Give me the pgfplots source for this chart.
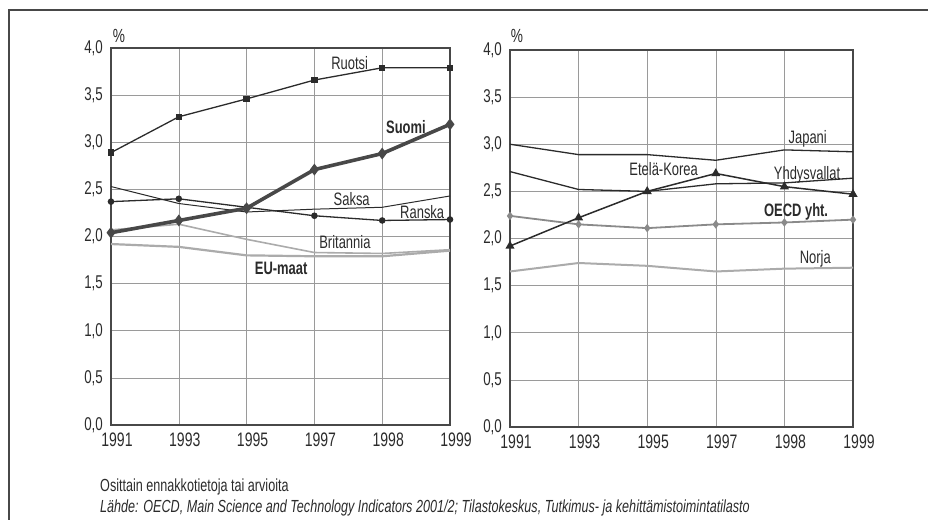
\documentclass[border=0pt]{standalone}
\usepackage{fontspec}
\setmainfont{Liberation Sans}[FakeStretch=0.72]
\usepackage{pgfplots}
\pgfplotsset{compat=1.18}
\definecolor{dk}{HTML}{2B2B2B}
\definecolor{md}{HTML}{484848}
\definecolor{gr}{HTML}{8A8A8A}
\definecolor{lt}{HTML}{ABABAB}
\definecolor{gridc}{HTML}{9A9A9A}
\pgfplotsset{
  mystyle/.style={
    scale only axis, anchor=south west, height=377bp,
    xmin=0, xmax=5, ymin=0, ymax=4,
    xtick={0,1,2,3,4,5},
    xticklabels={1991,1993,1995,1997,1998,1999},
    ytick={0,0.5,1,1.5,2,2.5,3,3.5,4},
    grid=major,
    grid style={gridc, line width=0.6bp},
    axis line style={md, line width=1.2bp},
    tick style={draw=none},
    yticklabel style={font=\fontsize{18.5bp}{18.5bp}\selectfont, text=dk, inner sep=0pt, xshift=-8bp},
    xticklabel style={font=\fontsize{19.5bp}{19.5bp}\selectfont, text=dk, inner sep=0pt, xshift=6bp, yshift=-8bp},
    clip=false,
    /pgf/number format/.cd, use comma, fixed, fixed zerofill, precision=1, assume math mode=true
  }
}
\tikzset{
  lab/.style={font=\fontsize{18bp}{18bp}\selectfont, text=dk, inner sep=0pt},
  blab/.style={font=\fontsize{18bp}{18bp}\selectfont\bfseries, text=dk, inner sep=0pt}
}
\begin{document}
\begin{tikzpicture}
\path[use as bounding box] (0,0) rectangle (928bp,520bp);
\draw[md, line width=1.2bp] (9bp,0) -- (9bp,510bp) -- (928bp,510bp);

\begin{axis}[mystyle, at={(111bp,95bp)}, width=339bp]
\addplot[lt, line width=1.6bp] coordinates {(0,2.07)(1,2.13)(2,1.97)(3,1.83)(4,1.82)(5,1.86)};
\addplot[lt, line width=2.2bp] coordinates {(0,1.92)(1,1.89)(2,1.80)(3,1.79)(4,1.79)(5,1.85)};
\addplot[dk, line width=1bp] coordinates {(0,2.53)(1,2.35)(2,2.26)(3,2.29)(4,2.31)(5,2.43)};
\addplot[dk, line width=1.3bp, mark=*, mark size=2.6bp] coordinates {(0,2.37)(1,2.40)(2,2.31)(3,2.22)(4,2.17)(5,2.18)};
\addplot[dk, line width=1.3bp, mark=square*, mark size=2.5bp] coordinates {(0,2.89)(1,3.27)(2,3.46)(3,3.66)(4,3.79)(5,3.79)};
\addplot[md, line width=3.6bp, mark=diamond*, mark size=3bp] coordinates {(0,2.04)(1,2.17)(2,2.30)(3,2.71)(4,2.88)(5,3.19)};
\node[lab] at (axis cs:3.52,3.84) {Ruotsi};
\node[blab] at (axis cs:4.35,3.16) {Suomi};
\node[lab] at (axis cs:3.55,2.40) {Saksa};
\node[lab] at (axis cs:4.59,2.26) {Ranska};
\node[lab] at (axis cs:3.45,1.94) {Britannia};
\node[blab] at (axis cs:2.51,1.66) {EU-maat};
\end{axis}

\begin{axis}[mystyle, at={(510bp,93bp)}, width=343bp]
\addplot[lt, line width=2bp] coordinates {(0,1.65)(1,1.74)(2,1.71)(3,1.65)(4,1.68)(5,1.69)};
\addplot[gr, line width=1.8bp, mark=diamond*, mark size=2.8bp] coordinates {(0,2.24)(1,2.15)(2,2.11)(3,2.15)(4,2.17)(5,2.20)};
\addplot[dk, line width=1.3bp] coordinates {(0,3.00)(1,2.89)(2,2.89)(3,2.83)(4,2.94)(5,2.92)};
\addplot[dk, line width=1.3bp] coordinates {(0,2.71)(1,2.52)(2,2.50)(3,2.58)(4,2.59)(5,2.64)};
\addplot[dk, line width=1.5bp, mark=triangle*, mark size=3.8bp] coordinates {(0,1.92)(1,2.22)(2,2.50)(3,2.69)(4,2.55)(5,2.47)};
\node[lab] at (axis cs:4.34,3.06) {Japani};
\node[lab] at (axis cs:2.24,2.74) {Etelä-Korea};
\node[lab] at (axis cs:4.33,2.68) {Yhdysvallat};
\node[blab] at (axis cs:4.17,2.28) {OECD yht.};
\node[lab] at (axis cs:4.45,1.78) {Norja};
\end{axis}

\node[font=\fontsize{19bp}{19bp}\selectfont, text=dk, inner sep=0pt] at (119bp,484bp) {\%};
\node[font=\fontsize{19bp}{19bp}\selectfont, text=dk, inner sep=0pt] at (517bp,484bp) {\%};
\node[anchor=west, inner sep=0pt, font=\fontsize{17.5bp}{20bp}\selectfont, text=dk] at (100bp,33bp) {Osittain ennakkotietoja tai arvioita};
\node[anchor=west, inner sep=0pt, font=\fontsize{17.5bp}{20bp}\selectfont\itshape, text=dk] at (100bp,12bp) {Lähde: OECD, Main Science and Technology Indicators 2001/2; Tilastokeskus, Tutkimus- ja kehittämistoimintatilasto};
\end{tikzpicture}
\end{document}
